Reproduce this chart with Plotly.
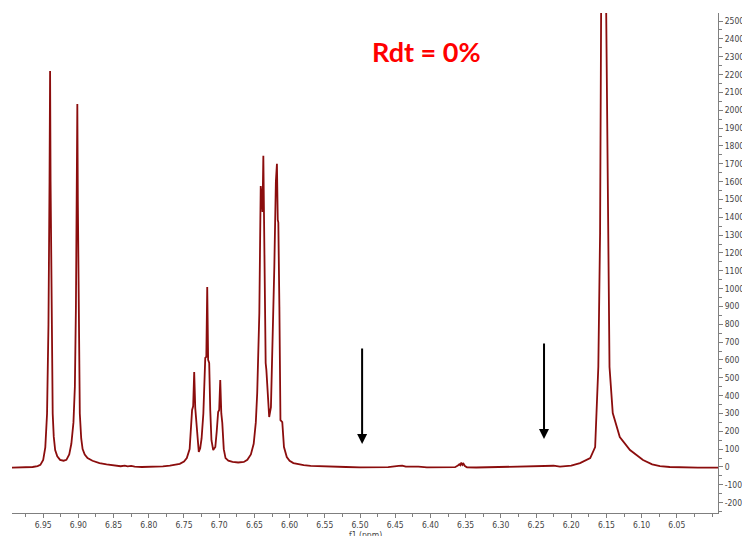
import plotly.graph_objects as go

# Spectrum (chemical shift in ppm, intensity)
ppm = [6.995, 6.985, 6.975, 6.965, 6.958, 6.954, 6.950, 6.947, 6.9445, 6.9425,
       6.941, 6.9402, 6.9395, 6.938, 6.9365, 6.935, 6.933, 6.930, 6.926, 6.921,
       6.917, 6.913, 6.910, 6.907, 6.905, 6.9035, 6.9022, 6.9015, 6.9008, 6.8995,
       6.898, 6.896, 6.894, 6.891, 6.887, 6.880, 6.870, 6.860, 6.850, 6.840,
       6.834, 6.830, 6.825, 6.820, 6.810, 6.800, 6.790, 6.780, 6.770, 6.762,
       6.756, 6.750, 6.746, 6.742, 6.740, 6.7385, 6.737, 6.7355, 6.734, 6.732,
       6.7305, 6.729, 6.727, 6.725, 6.7225, 6.721, 6.7198, 6.7183, 6.717, 6.7157,
       6.7142, 6.7127, 6.711, 6.7085, 6.7055, 6.7035, 6.7015, 6.700, 6.6985, 6.697,
       6.6956, 6.6935, 6.691, 6.687, 6.681, 6.673, 6.665, 6.660, 6.655, 6.651,
       6.648, 6.646, 6.6445, 6.643, 6.6418, 6.641, 6.6398, 6.6385, 6.6373, 6.636,
       6.6345, 6.634, 6.633, 6.631, 6.629, 6.6265, 6.624, 6.6217, 6.6195, 6.618,
       6.6168, 6.616, 6.6145, 6.613, 6.6104, 6.608, 6.604, 6.600, 6.5946, 6.588,
       6.580, 6.570, 6.560, 6.550, 6.540, 6.520, 6.500, 6.480, 6.460, 6.445,
       6.440, 6.435, 6.425, 6.421, 6.417, 6.405, 6.390, 6.375, 6.365, 6.361,
       6.359, 6.3575, 6.356, 6.3545, 6.353, 6.351, 6.348, 6.335, 6.320, 6.300,
       6.280, 6.260, 6.240, 6.225, 6.216, 6.200, 6.1875, 6.173, 6.166, 6.164,
       6.1615, 6.159, 6.1563, 6.1534, 6.1503, 6.148, 6.1456, 6.141, 6.131, 6.1165,
       6.098, 6.085, 6.074, 6.060, 6.045, 6.020, 5.990]
intensity = [-4, -3, -2, 0, 5, 12, 40, 110, 300, 800,
             1600, 2220, 1600, 700, 300, 170, 95, 60, 40, 35,
             40, 70, 130, 250, 450, 900, 1500, 2035, 1500, 700,
             300, 160, 100, 70, 50, 35, 22, 14, 8, 4,
             8, 3, 6, 2, 0, 0, 0, 3, 7, 12,
             18, 30, 50, 100, 200, 320, 340, 532, 330, 225,
             110, 84, 105, 160, 300, 450, 611, 617, 1009, 600,
             583, 320, 150, 95, 112, 200, 308, 320, 488, 300,
             247, 100, 50, 35, 28, 25, 28, 40, 70, 130,
             250, 415, 600, 863, 1300, 1575, 1520, 1430, 1745, 1272,
             700, 583, 544, 380, 280, 336, 712, 1121, 1600, 1700,
             1385, 1370, 897, 263, 252, 112, 56, 35, 22, 15,
             10, 6, 4, 2, 0, 0, -2, -2, -1, 6,
             8, 2, 2, 6, 2, -2, -3, -3, -1, 8,
             15, 10, 25, 12, 18, 5, -2, -3, -2, -1,
             0, 2, 4, 7, 2, 8, 22, 50, 112, 280,
             560, 1311, 2550, 6000, 2550, 1311, 560, 302, 168, 95,
             39, 15, 5, 0, -3, -4, -4]

x_ticks = [6.95, 6.90, 6.85, 6.80, 6.75, 6.70, 6.65, 6.60, 6.55, 6.50,
           6.45, 6.40, 6.35, 6.30, 6.25, 6.20, 6.15, 6.10, 6.05]
x_tick_labels = ["6.95", "6.90", "6.85", "6.80", "6.75", "6.70", "6.65", "6.60", "6.55", "6.50",
                 "6.45", "6.40", "6.35", "6.30", "6.25", "6.20", "6.15", "6.10", "6.05"]
y_ticks = list(range(-200, 2501, 100))
y_tick_labels = [str(v) for v in y_ticks]

arrow_ppm = [6.497, 6.2386]
arrow_top = [673, 701]
arrow_tip = [129, 157]

title_text = "Rdt = 0%"

axis_col = "#7f7f7f"
tick_font = dict(family="'DejaVu Sans Condensed', 'Liberation Sans', sans-serif",
                 size=8.5, color="#444444")

fig = go.Figure()
fig.add_trace(go.Scatter(x=ppm, y=intensity, mode="lines",
                         line=dict(color="#8B0D0D", width=1.8),
                         hoverinfo="skip", showlegend=False))

for xp, yt, yb in zip(arrow_ppm, arrow_top, arrow_tip):
    fig.add_annotation(x=xp, y=yb, ax=xp, ay=yt, xref="x", yref="y",
                       axref="x", ayref="y", showarrow=True, arrowhead=2,
                       arrowsize=1, arrowwidth=2, arrowcolor="black", text="")

fig.add_annotation(text="<b>" + title_text + "</b>", xref="paper", yref="paper",
                   x=0.5874, y=0.923, xanchor="center", yanchor="middle",
                   showarrow=False,
                   font=dict(family="Lato, 'Open Sans', sans-serif", size=27, color="#FF0000"))

fig.add_annotation(text="f1 (ppm)", xref="paper", yref="paper", x=0.5, y=-0.044,
                   xanchor="center", yanchor="middle", showarrow=False,
                   font=dict(family="'DejaVu Sans Condensed', 'Liberation Sans', sans-serif",
                             size=8.5, color="#444444"))

fig.update_layout(
    width=742, height=536,
    margin=dict(l=12, r=24, t=13, b=23, autoexpand=False),
    paper_bgcolor="white", plot_bgcolor="white",
    showlegend=False,
    xaxis=dict(range=[6.9943, 5.9915], tickmode="array", tickvals=x_ticks,
               ticktext=x_tick_labels, ticks="outside", ticklen=4, tickwidth=1,
               tickcolor=axis_col, showline=True, linecolor=axis_col, linewidth=1,
               showgrid=False, zeroline=False, tickfont=tick_font, automargin=False,
               minor=dict(dtick=0.025, tick0=6.0, ticks="outside", ticklen=3,
                          tickcolor=axis_col, showgrid=False)),
    yaxis=dict(range=[-258, 2545], side="right", tickmode="array", tickvals=y_ticks,
               ticktext=y_tick_labels, ticks="outside", ticklen=4, tickwidth=1,
               tickcolor=axis_col, showline=True, linecolor=axis_col, linewidth=1,
               showgrid=False, zeroline=False, tickfont=tick_font, automargin=False,
               minor=dict(dtick=50, tick0=0, ticks="outside", ticklen=3,
                          tickcolor=axis_col, showgrid=False)),
)

fig.write_html("out.html", config={"displayModeBar": False},
               post_script="document.body.style.margin='0px';document.body.style.overflow='hidden';")
